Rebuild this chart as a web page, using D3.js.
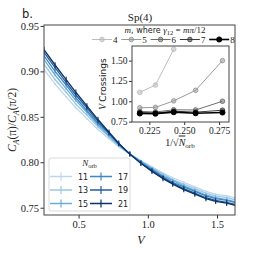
<!DOCTYPE html>
<html>
<head>
<meta charset="utf-8">
<script src="https://cdn.jsdelivr.net/npm/d3@7"></script>
<style>
	body { margin: 0; background: #fff; }
	svg text { font-family: "Liberation Serif", "DejaVu Serif", serif; fill: #222; }
	.sans { font-family: "DejaVu Sans", sans-serif; }
	.axis path { display: none; }
	.axis line { stroke: #333; }
</style>
</head>
<body>
<svg id="fig" width="254" height="254"></svg>
<script>
// interaction strengths V where the ratio was sampled
const vGrid = [0.25, 0.33, 0.41, 0.48, 0.56, 0.64, 0.72, 0.79, 0.87, 0.95, 1.03, 1.11, 1.18, 1.26, 1.34, 1.42, 1.49, 1.57, 1.65];

// C_A(pi)/C_A(pi/2) for each N_orb
const nOrb = [11, 13, 15, 17, 19, 21];
const ratio11 = [0.902, 0.886, 0.872, 0.860, 0.848, 0.836, 0.826, 0.817, 0.809, 0.802, 0.795, 0.788, 0.783, 0.778, 0.773, 0.768, 0.765, 0.763, 0.760];
const ratio13 = [0.908, 0.891, 0.877, 0.864, 0.852, 0.839, 0.828, 0.818, 0.809, 0.801, 0.794, 0.787, 0.781, 0.776, 0.771, 0.766, 0.763, 0.761, 0.758];
const ratio15 = [0.913, 0.896, 0.881, 0.868, 0.855, 0.841, 0.829, 0.819, 0.809, 0.801, 0.793, 0.785, 0.780, 0.774, 0.769, 0.764, 0.761, 0.759, 0.756];
const ratio17 = [0.917, 0.900, 0.885, 0.871, 0.857, 0.843, 0.831, 0.820, 0.809, 0.800, 0.792, 0.784, 0.778, 0.773, 0.768, 0.763, 0.760, 0.758, 0.755];
const ratio19 = [0.921, 0.904, 0.888, 0.874, 0.860, 0.845, 0.832, 0.820, 0.809, 0.799, 0.791, 0.783, 0.777, 0.771, 0.766, 0.761, 0.758, 0.756, 0.753];
const ratio21 = [0.924, 0.907, 0.891, 0.877, 0.862, 0.847, 0.833, 0.821, 0.809, 0.799, 0.790, 0.782, 0.776, 0.770, 0.765, 0.760, 0.757, 0.755, 0.752];
const ratioErr = [0.001, 0.0012, 0.0015, 0.002, 0.0025, 0.003];
const orbColors = ['#bcd7ec', '#9cc6e3', '#6aaed6', '#3b87c1', '#245c9c', '#0c3166'];

// inset: V crossings vs 1/sqrt(N_orb), one series per m
const invSqrtN = [0.2182, 0.2294, 0.2425, 0.2582, 0.2774];
const mVals = [4, 5, 6, 7, 8];
const cross4 = [1.11, 1.20, 1.64];
const cross5 = [0.92, 0.925, 1.005, 1.135, 1.50];
const cross6 = [0.875, 0.868, 0.895, 0.893, 1.00];
const cross7 = [0.862, 0.855, 0.878, 0.866, 0.89];
const cross8 = [0.85, 0.848, 0.866, 0.853, 0.862];
const mColors = ['#bdbdbd', '#9a9a9a', '#6e6e6e', '#3c3c3c', '#000000'];

const xTicks = [0.5, 1.0, 1.5];
const yTicks = [0.75, 0.80, 0.85, 0.90, 0.95];
const insetXTicks = [0.225, 0.250, 0.275];
const insetYTicks = [0.75, 1.00, 1.25, 1.50];

const svg = d3.select('#fig');
const main = {left: 44, right: 235, top: 25, bottom: 215};
const inset = {left: 132, right: 229, top: 46, bottom: 122};

const xScale = d3.scaleLinear().domain([0.25, 1.63]).range([main.left, main.right]);
const yScale = d3.scaleLinear().domain([0.742, 0.951]).range([main.bottom, main.top]);

const series = [ratio11, ratio13, ratio15, ratio17, ratio19, ratio21].map((vals, i) => ({
	n: nOrb[i],
	color: orbColors[i],
	err: ratioErr[i],
	values: vals.map((r, j) => ({v: vGrid[j], r}))
}));

svg.append('clipPath').attr('id', 'clipMain')
	.append('rect')
	.attr('x', main.left).attr('y', main.top)
	.attr('width', main.right - main.left).attr('height', main.bottom - main.top);

// ---- main curves
const lineGen = d3.line().x(d => xScale(d.v)).y(d => yScale(d.r));
const curves = svg.append('g').attr('clip-path', 'url(#clipMain)');
const sg = curves.selectAll('g').data(series).enter().append('g');
sg.append('path')
	.attr('d', d => lineGen(d.values))
	.attr('fill', 'none')
	.attr('stroke', d => d.color)
	.attr('stroke-width', 1.3);
sg.each(function(s) {
	d3.select(this).selectAll('line').data(s.values).enter().append('line')
		.attr('x1', d => xScale(d.v)).attr('x2', d => xScale(d.v))
		.attr('y1', d => yScale(d.r - s.err)).attr('y2', d => yScale(d.r + s.err))
		.attr('stroke', s.color).attr('stroke-width', 1.1);
});

// ---- main axes
svg.append('g').attr('class', 'axis')
	.attr('transform', `translate(0,${main.bottom})`)
	.call(d3.axisBottom(xScale).tickValues(xTicks).tickFormat(d3.format('.1f')).tickSize(3.5).tickPadding(2))
	.selectAll('text').style('font-size', '10.5px').style('font-family', '"Liberation Serif", serif').attr('fill', '#222');
svg.append('g').attr('class', 'axis')
	.attr('transform', `translate(${main.left},0)`)
	.call(d3.axisLeft(yScale).tickValues(yTicks).tickFormat(d3.format('.2f')).tickSize(3.5).tickPadding(1.5))
	.selectAll('text').style('font-size', '10.5px').style('font-family', '"Liberation Serif", serif').attr('fill', '#222');
svg.append('rect')
	.attr('x', main.left).attr('y', main.top)
	.attr('width', main.right - main.left).attr('height', main.bottom - main.top)
	.attr('fill', 'none').attr('stroke', '#444').attr('stroke-width', 1);

svg.append('text').attr('class', 'sans').attr('x', 22).attr('y', 17.5)
	.style('font-size', '11.5px').text('b.');
svg.append('text').attr('x', 140).attr('y', 21).attr('text-anchor', 'middle')
	.style('font-size', '11px').text('Sp(4)');
svg.append('text').attr('x', 141).attr('y', 244).attr('text-anchor', 'middle')
	.style('font-size', '12px').style('font-style', 'italic').text('V');

const ylab = svg.append('text').attr('transform', 'translate(16,120) rotate(-90)')
	.attr('text-anchor', 'middle').style('font-size', '11.5px');
ylab.append('tspan').style('font-style', 'italic').text('C');
ylab.append('tspan').attr('dy', 2.5).style('font-size', '8px').style('font-style', 'italic').text('A');
ylab.append('tspan').attr('dy', -2.5).text('(π)/');
ylab.append('tspan').style('font-style', 'italic').text('C');
ylab.append('tspan').attr('dy', 2.5).style('font-size', '8px').style('font-style', 'italic').text('A');
ylab.append('tspan').attr('dy', -2.5).text('(π/2)');

// ---- N_orb legend
const leg = svg.append('g');
leg.append('rect').attr('x', 49).attr('y', 158).attr('width', 81).attr('height', 53).attr('rx', 2)
	.attr('fill', '#fff').attr('fill-opacity', 0.85).attr('stroke', '#d0d0d0').attr('stroke-width', 0.8);
const lt = leg.append('text').attr('x', 89.5).attr('y', 165.5).attr('text-anchor', 'middle').style('font-size', '9px');
lt.append('tspan').style('font-style', 'italic').text('N');
lt.append('tspan').attr('dy', 2).style('font-size', '6.5px').text('orb');
series.forEach((s, i) => {
	const col = Math.floor(i / 3), row = i % 3;
	const cx = 61 + col * 40, cy = 176.5 + row * 13.5;
	leg.append('line').attr('x1', cx - 11).attr('x2', cx + 11).attr('y1', cy).attr('y2', cy)
		.attr('stroke', s.color).attr('stroke-width', 1.5);
	leg.append('line').attr('x1', cx).attr('x2', cx).attr('y1', cy - 4).attr('y2', cy + 4)
		.attr('stroke', s.color).attr('stroke-width', 1.2);
	leg.append('text').attr('class', 'sans').attr('x', cx + 17).attr('y', cy + 3)
		.style('font-size', '8px').text(s.n);
});

// ---- inset
const ix = d3.scaleLinear().domain([0.2126, 0.2821]).range([inset.left, inset.right]);
const iy = d3.scaleLinear().domain([0.745, 1.68]).range([inset.bottom, inset.top]);
svg.append('rect').attr('x', inset.left).attr('y', inset.top)
	.attr('width', inset.right - inset.left).attr('height', inset.bottom - inset.top).attr('fill', '#fff');

const crossSeries = [cross4, cross5, cross6, cross7, cross8].map((vals, i) => ({
	m: mVals[i],
	color: mColors[i],
	values: vals.map((c, j) => ({x: invSqrtN[j], c}))
}));
const iline = d3.line().x(d => ix(d.x)).y(d => iy(d.c));
const ig = svg.append('g').selectAll('g').data(crossSeries).enter().append('g');
ig.append('path').attr('d', d => iline(d.values)).attr('fill', 'none')
	.attr('stroke', d => d.color).attr('stroke-width', d => d.m === 8 ? 1.6 : 1);
ig.each(function(s) {
	d3.select(this).selectAll('circle').data(s.values).enter().append('circle')
		.attr('cx', d => ix(d.x)).attr('cy', d => iy(d.c)).attr('r', s.m === 8 ? 2.6 : 2.3)
		.attr('fill', s.color).attr('fill-opacity', s.m === 8 ? 1 : 0.55)
		.attr('stroke', s.color).attr('stroke-width', 0.9);
});

svg.append('g').attr('class', 'axis')
	.attr('transform', `translate(0,${inset.bottom})`)
	.call(d3.axisBottom(ix).tickValues(insetXTicks).tickFormat(d3.format('.3f')).tickSize(3).tickPadding(2))
	.selectAll('text').style('font-size', '9.5px').style('font-family', '"Liberation Serif", serif').attr('fill', '#222');
svg.append('g').attr('class', 'axis')
	.attr('transform', `translate(${inset.left},0)`)
	.call(d3.axisLeft(iy).tickValues(insetYTicks).tickFormat(d3.format('.2f')).tickSize(3).tickPadding(1.5))
	.selectAll('text').style('font-size', '9.5px').style('font-family', '"Liberation Serif", serif').attr('fill', '#222');
svg.append('rect').attr('x', inset.left).attr('y', inset.top)
	.attr('width', inset.right - inset.left).attr('height', inset.bottom - inset.top)
	.attr('fill', 'none').attr('stroke', '#444').attr('stroke-width', 1);

const ixl = svg.append('text').attr('x', 180).attr('y', 145.5).attr('text-anchor', 'middle').style('font-size', '10px');
ixl.append('tspan').text('1/√');
ixl.append('tspan').style('font-style', 'italic').style('text-decoration', 'overline').text('N');
ixl.append('tspan').attr('dy', 2).style('font-size', '7px').text('orb');

const iyl = svg.append('text').attr('transform', 'translate(106,84) rotate(-90)')
	.attr('text-anchor', 'middle').style('font-size', '9.5px');
iyl.append('tspan').style('font-style', 'italic').text('V ');
iyl.append('tspan').attr('class', 'sans').style('font-size', '9px').text('Crossings');

// ---- m legend above the inset
const mt = svg.append('text').attr('x', 165).attr('y', 33).attr('text-anchor', 'middle').style('font-size', '9px');
mt.append('tspan').style('font-style', 'italic').text('m');
mt.append('tspan').attr('class', 'sans').style('font-size', '8px').text(', where ');
mt.append('tspan').style('font-style', 'italic').text('γ');
mt.append('tspan').attr('dy', 2).style('font-size', '6.5px').text('12');
mt.append('tspan').attr('dy', -2).text(' = ');
mt.append('tspan').style('font-style', 'italic').text('mπ');
mt.append('tspan').text('/12');
crossSeries.forEach((s, i) => {
	const cx = 102 + i * 29.3, cy = 39.5;
	svg.append('line').attr('x1', cx - 10).attr('x2', cx + 10).attr('y1', cy).attr('y2', cy)
		.attr('stroke', s.color).attr('stroke-width', s.m === 8 ? 1.6 : 1);
	svg.append('circle').attr('cx', cx).attr('cy', cy).attr('r', s.m === 8 ? 2.6 : 2.3)
		.attr('fill', s.color).attr('fill-opacity', s.m === 8 ? 1 : 0.55)
		.attr('stroke', s.color).attr('stroke-width', 0.9);
	svg.append('text').attr('x', cx + 11).attr('y', cy + 3.2).style('font-size', '9px').text(s.m);
});
</script>
</body>
</html>
